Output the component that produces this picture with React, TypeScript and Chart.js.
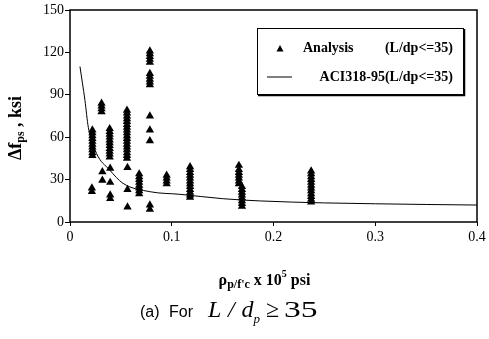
import React, { useEffect, useRef } from "react";
import { Chart, registerables } from "chart.js";

Chart.register(...registerables);

// ---- data ----
const groupX = [0.022, 0.0215, 0.031, 0.0318, 0.039, 0.0395, 0.056, 0.0565, 0.068, 0.0785, 0.0785, 0.0785, 0.095, 0.118, 0.166, 0.169, 0.237];
const groupValues: number[][] = [
  [65, 63, 61, 59, 57, 55, 53, 51, 49, 47],
  [24, 21.5],
  [84, 82, 80, 78],
  [35.5, 29.5],
  [66, 64, 62, 60, 58, 56, 54, 52, 50, 48, 46],
  [38, 28, 19, 16.5],
  [79, 77, 75, 73, 71, 69, 67, 65, 63, 61, 59, 57, 55, 53, 51, 49, 47, 45],
  [38.5, 23, 10.5],
  [34, 32, 30, 28, 26, 24, 22, 20],
  [121, 119, 117, 115, 113],
  [105, 103, 101, 99, 97],
  [75, 65, 57.5, 12, 9],
  [33, 31, 29, 27],
  [39, 37, 35, 33, 31, 29, 27, 25, 23, 21, 19, 17.5],
  [40, 37, 35, 33, 31, 29, 27],
  [25, 23, 21, 19, 17, 15, 13, 11],
  [36, 34, 32, 30, 28, 26, 24, 22, 20, 18, 16, 14],
];

const curveX = [0.0098, 0.0147, 0.018, 0.026, 0.039, 0.052, 0.079, 0.108, 0.15, 0.187, 0.25, 0.3, 0.35, 0.4];
const curveY = [110, 86, 67, 48.6, 36.8, 27.4, 21.4, 19.6, 16.5, 14.9, 13.5, 12.9, 12.4, 12];

const xTicks = [0, 0.1, 0.2, 0.3, 0.4];
const yTicks = [0, 30, 60, 90, 120, 150];

const analysisLabel = "Analysis";
const analysisLabelTail = "(L/dp<=35)";
const aciLabel = "ACI318-95(L/dp<=35)";

const serif = "'Liberation Serif', 'Times New Roman', serif";

const framePlugin = {
  id: "frameAndText",
  afterDraw(chart: any) {
    const { ctx, chartArea: ca } = chart;
    ctx.save();
    // frame
    ctx.strokeStyle = "#000";
    ctx.lineWidth = 1.5;
    ctx.strokeRect(ca.left, ca.top, ca.right - ca.left, ca.bottom - ca.top);

    // legend box
    const bx = ca.left + 187;
    const by = ca.top + 18;
    const bw = 206;
    const bh = 66;
    ctx.fillStyle = "#fff";
    ctx.fillRect(bx, by, bw, bh);
    ctx.lineWidth = 1;
    ctx.strokeRect(bx + 0.5, by + 0.5, bw, bh);
    ctx.lineWidth = 1.5;
    ctx.beginPath();
    ctx.moveTo(bx + 1, by + bh + 1.5);
    ctx.lineTo(bx + bw + 1.5, by + bh + 1.5);
    ctx.lineTo(bx + bw + 1.5, by + 1);
    ctx.stroke();

    ctx.fillStyle = "#000";
    // triangle marker
    const tx = bx + 23;
    const ty = by + 21;
    ctx.beginPath();
    ctx.moveTo(tx, ty - 4);
    ctx.lineTo(tx + 3.5, ty + 2.5);
    ctx.lineTo(tx - 3.5, ty + 2.5);
    ctx.closePath();
    ctx.fill();
    // line marker
    ctx.lineWidth = 1;
    ctx.beginPath();
    ctx.moveTo(bx + 10, by + 49);
    ctx.lineTo(bx + 35, by + 49);
    ctx.stroke();

    ctx.font = `bold 14px ${serif}`;
    ctx.textBaseline = "middle";
    ctx.textAlign = "left";
    ctx.fillText(analysisLabel, bx + 46, by + 20);
    ctx.textAlign = "right";
    ctx.fillText(analysisLabelTail, bx + 196, by + 20);
    ctx.fillText(aciLabel, bx + 196, by + 49);

    // x title with sub/superscripts
    const xSeg = [
      { t: "ρ", s: 16, dy: 0 },
      { t: "p/f'c", s: 12, dy: 3 },
      { t: " x 10", s: 16, dy: 0 },
      { t: "5", s: 10, dy: -8 },
      { t: " psi", s: 16, dy: 0 },
    ];
    const drawSeg = (segs: any[], cx: number, cy: number) => {
      ctx.textAlign = "left";
      ctx.textBaseline = "alphabetic";
      let total = 0;
      for (const g of segs) {
        ctx.font = `bold ${g.s}px ${serif}`;
        total += ctx.measureText(g.t).width;
      }
      let x = cx - total / 2;
      for (const g of segs) {
        ctx.font = `bold ${g.s}px ${serif}`;
        ctx.fillText(g.t, x, cy + g.dy);
        x += ctx.measureText(g.t).width;
      }
    };
    drawSeg(xSeg, (ca.left + ca.right) / 2 - 9, ca.bottom + 63);

    // y title rotated
    const ySeg = [
      { t: "Δf", s: 18, dy: 0 },
      { t: "ps", s: 12, dy: 3 },
      { t: " , ksi", s: 18, dy: 0 },
    ];
    ctx.translate(21, 128);
    ctx.rotate(-Math.PI / 2);
    drawSeg(ySeg, 0, 0);
    ctx.restore();
  },
};

export default function App() {
  const ref = useRef<HTMLCanvasElement>(null);
  useEffect(() => {
    const points = groupX.flatMap((x, i) => groupValues[i].map((y) => ({ x, y })));
    const curve = curveX.map((x, i) => ({ x, y: curveY[i] }));
    const tickFont = { family: serif, size: 14 };
    const chart = new Chart(ref.current as HTMLCanvasElement, {
      type: "scatter",
      data: {
        datasets: [
          {
            label: analysisLabel + "    " + analysisLabelTail,
            data: points,
            pointStyle: "triangle",
            pointRadius: 4.8,
            backgroundColor: "#000",
            borderColor: "#000",
            borderWidth: 0,
          } as any,
          {
            type: "line",
            label: aciLabel,
            data: curve,
            showLine: true,
            borderColor: "#000",
            borderWidth: 1,
            pointRadius: 0,
            cubicInterpolationMode: "monotone",
            fill: false,
          } as any,
        ],
      },
      options: {
        responsive: false,
        animation: false,
        layout: { padding: { left: 0, top: 10, right: 12, bottom: 87 } },
        plugins: { legend: { display: false }, tooltip: { enabled: false } },
        scales: {
          x: {
            type: "linear",
            min: 0,
            max: 0.4,
            afterFit: (s: any) => {
              s.height = 30;
            },
            afterBuildTicks: (s: any) => {
              s.ticks = xTicks.map((v) => ({ value: v }));
            },
            ticks: { font: tickFont, color: "#000", padding: 3, maxRotation: 0, callback: (v: any) => String(v) },
            grid: { display: true, drawOnChartArea: false, tickLength: 4, color: "#000" },
            border: { display: false },
          },
          y: {
            type: "linear",
            min: 0,
            max: 150,
            afterFit: (s: any) => {
              s.width = 70;
            },
            afterBuildTicks: (s: any) => {
              s.ticks = yTicks.map((v) => ({ value: v }));
            },
            ticks: { font: tickFont, color: "#000", padding: 1, callback: (v: any) => String(v) },
            grid: { display: true, drawOnChartArea: false, tickLength: 5, color: "#000" },
            border: { display: false },
          },
        },
      },
      plugins: [framePlugin],
    });
    return () => chart.destroy();
  }, []);

  return (
    <div style={{ position: "fixed", left: 0, top: 0, width: 489, height: 339, background: "#fff" }}>
      <canvas ref={ref} width={489} height={339} style={{ display: "block" }} />
      <div
        style={{
          position: "absolute",
          left: 140,
          top: 297,
          display: "flex",
          alignItems: "baseline",
          lineHeight: 1,
          color: "#000",
        }}
      >
        <span style={{ fontFamily: "'Liberation Sans', Arial, sans-serif", fontSize: 16, wordSpacing: 5 }}>(a) For</span>
        <span style={{ fontFamily: serif, fontSize: 24, fontStyle: "italic", marginLeft: 15, wordSpacing: 1 }}>
          L / d<sub style={{ fontSize: 13 }}>p</sub>
        </span>
        <span style={{ fontFamily: serif, fontSize: 24, marginLeft: 6 }}>≥</span>
        <span
          style={{
            fontFamily: serif,
            fontSize: 24,
            marginLeft: 5,
            display: "inline-block",
            transform: "scaleX(1.4)",
            transformOrigin: "left bottom",
          }}
        >
          35
        </span>
      </div>
    </div>
  );
}
